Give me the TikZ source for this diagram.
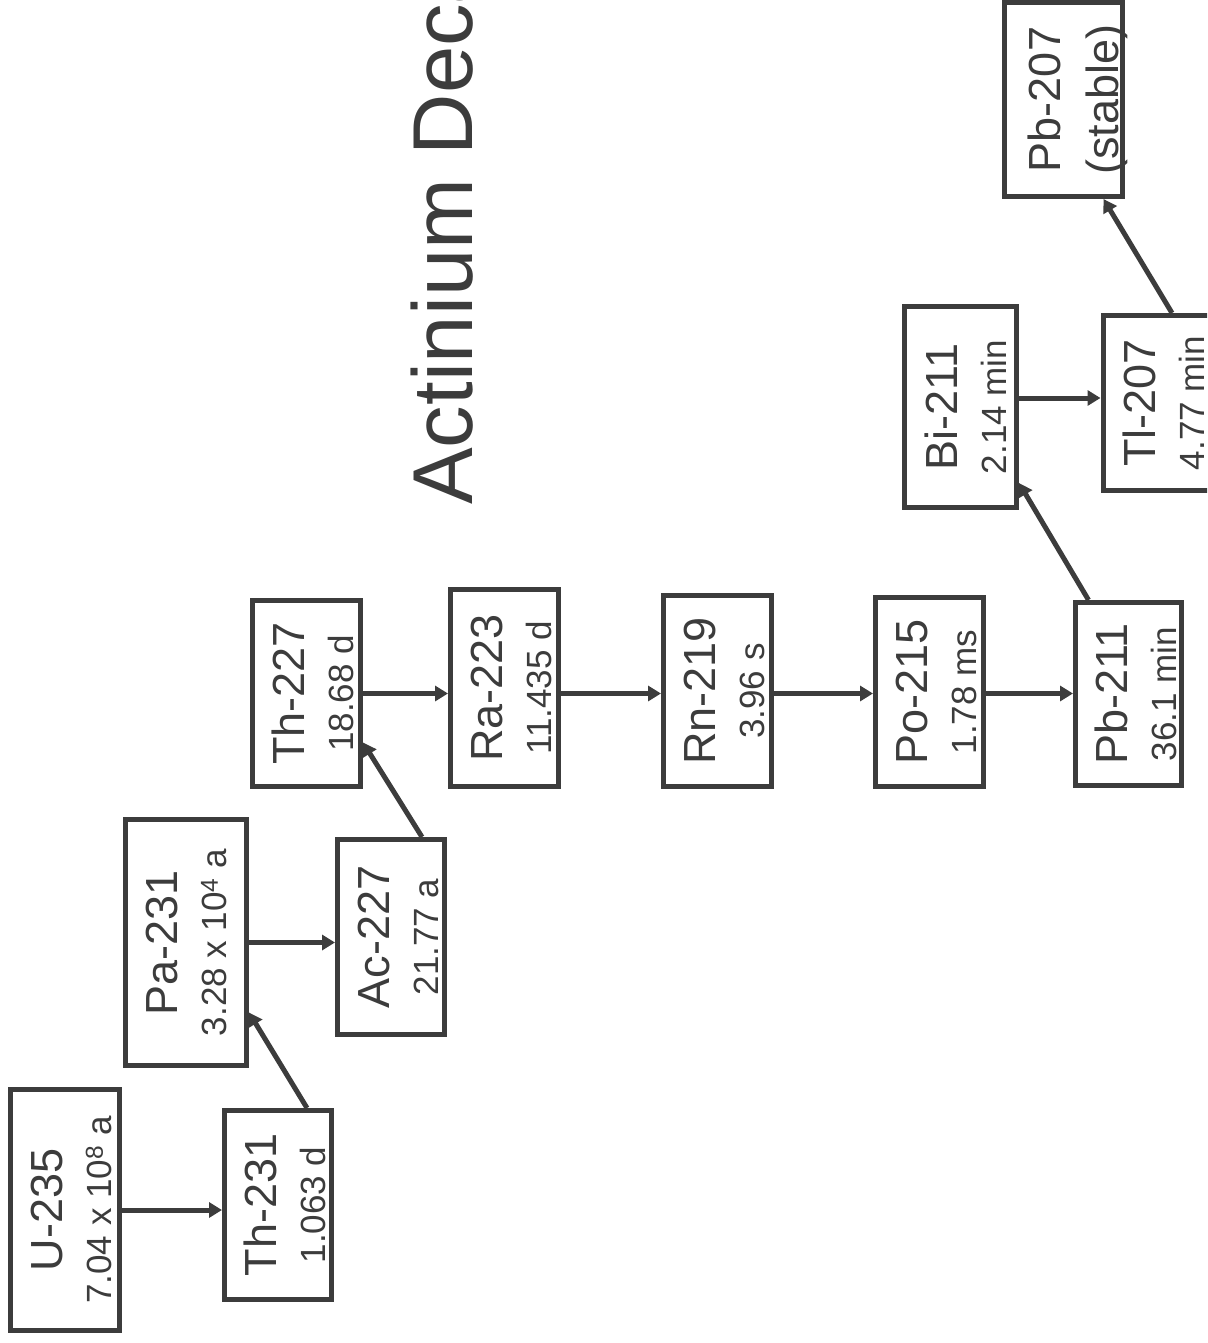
\documentclass[tikz,border=0pt]{standalone}
\usepackage{fontspec}
\setmainfont{Liberation Sans}
\usetikzlibrary{arrows.meta}

\definecolor{ink}{RGB}{60,60,60}
\newcommand\nucfont{\fontsize{45}{49}\selectfont}
\newcommand\lifefont{\fontsize{35}{49}\selectfont}

\tikzset{
  iso/.style n args={3}{draw=ink, line width=5pt, rotate=90, align=center,
    inner sep=1pt, text=ink, font=\lifefont,
    minimum width=#1pt, minimum height=#2pt, text height=#3pt},
  decay/.style={draw=ink, line width=5pt, -{Triangle[length=13pt,width=15pt]}},
}

\begin{document}
\begin{tikzpicture}[x=1pt,y=-1pt]
    \useasboundingbox (0,0) rectangle (1207,1343);
    \clip (0,0) rectangle (1207,1343);

    % title
    \node[rotate=90, anchor=base west, inner sep=0pt, text=ink,
          font=\fontsize{85}{90}\selectfont] (title) at (472,505) {Actinium Decay};

    % nuclides
    \node[iso={241}{109}{94}] (u235)  at (65,1210)    {{\nucfont U-235}\\7.04 x 10\textsuperscript{8} a};
    \node[iso={189}{107}{96}] (th231) at (278,1205)   {{\nucfont Th-231}\\1.063 d};
    \node[iso={246}{121}{82}] (pa231) at (186,942.5)  {{\nucfont Pa-231}\\3.28 x 10\textsuperscript{4} a};
    \node[iso={195}{107}{96}] (ac227) at (391,937)    {{\nucfont Ac-227}\\21.77 a};
    \node[iso={186}{108}{95}] (th227) at (306.5,693.5){{\nucfont Th-227}\\18.68 d};
    \node[iso={197}{108}{95}] (ra223) at (504.5,688)  {{\nucfont Ra-223}\\11.435 d};
    \node[iso={191}{108}{95}] (rn219) at (717.5,691)  {{\nucfont Rn-219}\\3.96 s};
    \node[iso={189}{108}{95}] (po215) at (929.5,692)  {{\nucfont Po-215}\\1.78 ms};
    \node[iso={183}{106}{97}] (pb211) at (1128.5,694) {{\nucfont Pb-211}\\36.1 min};
    \node[iso={201}{112}{91}] (bi211) at (960.5,407)  {{\nucfont Bi-211}\\2.14 min};
    \node[iso={175}{110}{93}] (tl207) at (1158,403)   {{\nucfont Tl-207}\\4.77 min};
    \node[iso={194}{118}{109}, font=\fontsize{45}{58}\selectfont, text depth=0pt]
        (pb207) at (1063.5,99.5) {Pb-207\\(stable)};

    % decays
    \draw[decay] (u235.south) -- (u235.south -| th231.north);
    \draw[decay] ([xshift=29pt]th231.east) -- ([yshift=-70pt]pa231.south);
    \draw[decay] (pa231.south) -- (pa231.south -| ac227.north);
    \draw[decay] ([xshift=31pt]ac227.east) -- ([yshift=-49pt]th227.south);
    \foreach \a/\b in {th227/ra223, ra223/rn219, rn219/po215, po215/pb211}
        \draw[decay] (\a.south |- th227.center) -- (\b.north |- th227.center);
    \draw[decay] ([xshift=-40pt]pb211.east) -- ([yshift=-76pt]bi211.south);
    \draw[decay] ([yshift=9pt]bi211.south) -- ([yshift=9pt]bi211.south -| tl207.north);
    \draw[decay] ([xshift=14pt]tl207.east) -- ([xshift=40pt]pb207.west);
\end{tikzpicture}
\end{document}
